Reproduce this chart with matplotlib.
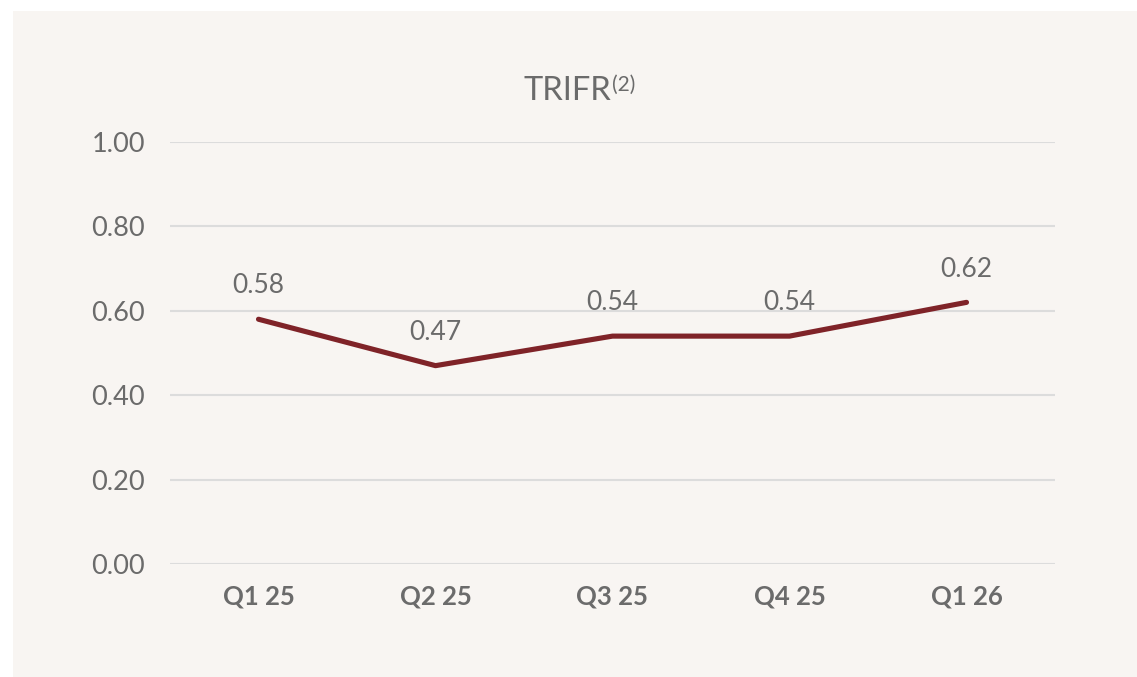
import matplotlib.pyplot as plt
from matplotlib.patches import Rectangle

plt.rcParams['font.family'] = ['Lato', 'DejaVu Sans']

quarters = ['Q1 25', 'Q2 25', 'Q3 25', 'Q4 25', 'Q1 26']
trifr = [0.58, 0.47, 0.54, 0.54, 0.62]
yticks = [0.0, 0.2, 0.4, 0.6, 0.8, 1.0]

TXT = '#6b6b6b'
BG = '#f8f5f2'
LINE = '#7f2328'

fig = plt.figure(figsize=(11.37, 6.77), dpi=100)
fig.patch.set_facecolor('white')
# beige panel behind the chart
fig.patches.append(Rectangle((13 / 1137, 0), 1, 1 - 11 / 677,
                             transform=fig.transFigure, facecolor=BG,
                             edgecolor='none', zorder=-10))

ax = fig.add_axes([170 / 1137, 1 - 564 / 677, 885 / 1137, 422 / 677])
ax.patch.set_alpha(0)

x = range(len(quarters))
ax.plot(x, trifr, color=LINE, lw=3.7, solid_capstyle='round', zorder=3)
for xi, v in zip(x, trifr):
    ax.annotate(f'{v:.2f}', (xi, v), xytext=(0, 24), textcoords='offset points',
                ha='center', va='center', fontsize=19, color=TXT)

ax.set_xlim(-0.5, len(quarters) - 0.5)
ax.set_ylim(0, 1.0)
ax.set_yticks(yticks)
ax.set_yticklabels([f'{t:.2f}' for t in yticks], fontsize=19.5, color=TXT)
ax.set_xticks(list(x))
ax.set_xticklabels(quarters, fontsize=18.5, fontweight='bold', color=TXT)
ax.tick_params(length=0)
ax.tick_params(axis='y', pad=18)
ax.tick_params(axis='x', pad=15)
ax.grid(axis='y', color='#dcdcdc', lw=1.5)
ax.set_axisbelow(True)
for s in ax.spines.values():
    s.set_visible(False)

t = fig.text(567 / 1137, 1 - 91 / 677, 'TRIFR', ha='center', va='center',
             fontsize=23.5, color=TXT)
ax.annotate('(2)', xy=(1, 1), xycoords=t, xytext=(0.5, 1), textcoords='offset points',
            ha='left', va='top', fontsize=15, color=TXT)

fig.savefig('out.png', dpi=100, facecolor=fig.get_facecolor())
